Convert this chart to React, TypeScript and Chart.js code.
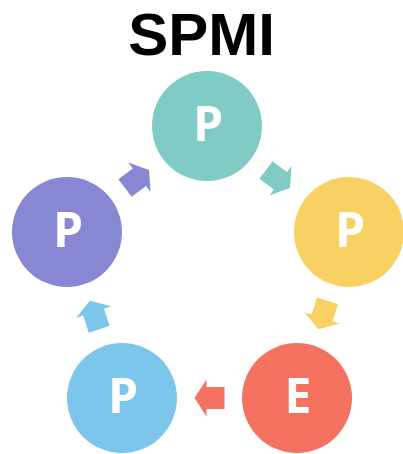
import React, { useEffect, useRef } from 'react';
import { Chart, registerables } from 'chart.js';

Chart.register(...registerables);

const titleText = 'SPMI';
const stageLabels = ['P', 'P', 'E', 'P', 'P'];
const stageX = [207, 349, 297, 122, 67];
const stageY = [328, 222, 56, 56, 222];
const stageColors = ['#80CBC4', '#F9D162', '#F4725F', '#7DC6EB', '#8887D3'];

const cyclePlugin = {
  id: 'cycleDiagram',
  afterDatasetsDraw(chart: any) {
    const meta = chart.getDatasetMeta(0);
    const ctx: CanvasRenderingContext2D = chart.ctx;
    const pts = meta.data;
    const n = pts.length;
    ctx.save();
    for (let i = 0; i < n; i++) {
      const a = pts[i];
      const b = pts[(i + 1) % n];
      const mx = (a.x + b.x) / 2;
      const my = (a.y + b.y) / 2;
      const ang = Math.atan2(b.y - a.y, b.x - a.x);
      ctx.save();
      ctx.translate(mx, my);
      ctx.rotate(ang);
      ctx.beginPath();
      ctx.moveTo(-15, -11);
      ctx.lineTo(3, -11);
      ctx.lineTo(3, -18.5);
      ctx.lineTo(15, 0);
      ctx.lineTo(3, 18.5);
      ctx.lineTo(3, 11);
      ctx.lineTo(-15, 11);
      ctx.closePath();
      ctx.fillStyle = stageColors[i];
      ctx.fill();
      ctx.restore();
    }
    ctx.fillStyle = '#ffffff';
    ctx.font = 'bold 48px "Open Sans"';
    ctx.textAlign = 'center';
    ctx.textBaseline = 'middle';
    pts.forEach((p: any, i: number) => {
      ctx.fillText(stageLabels[i], p.x + 1, p.y + 1);
    });
    ctx.restore();
  },
};

export default function App() {
  const ref = useRef<HTMLCanvasElement | null>(null);
  useEffect(() => {
    if (!ref.current) return;
    const chart = new Chart(ref.current, {
      type: 'scatter',
      data: {
        datasets: [
          {
            data: stageX.map((x, i) => ({ x, y: stageY[i] })),
            pointRadius: 55,
            pointHoverRadius: 55,
            pointBackgroundColor: stageColors,
            pointBorderWidth: 0,
            pointHoverBorderWidth: 0,
            clip: false as any,
          },
        ],
      },
      options: {
        animation: false,
        responsive: false,
        events: [],
        layout: { padding: 0, autoPadding: false } as any,
        plugins: {
          legend: { display: false },
          tooltip: { enabled: false },
          title: {
            display: true,
            text: titleText,
            color: '#000000',
            font: { size: 60, weight: 'bold', family: '"Liberation Sans", Arial, sans-serif', lineHeight: 1.2 },
            padding: { top: 2, bottom: 0 },
          },
        },
        scales: {
          x: { type: 'linear', min: 0, max: 403, display: false },
          y: { type: 'linear', min: 0, max: 380, display: false },
        },
      },
      plugins: [cyclePlugin],
    });
    return () => chart.destroy();
  }, []);
  return (
    <div style={{ position: 'fixed', left: 0, top: 0, width: 403, height: 454, background: '#fff' }}>
      <canvas ref={ref} width={403} height={454} style={{ width: 403, height: 454, display: 'block' }} />
    </div>
  );
}
